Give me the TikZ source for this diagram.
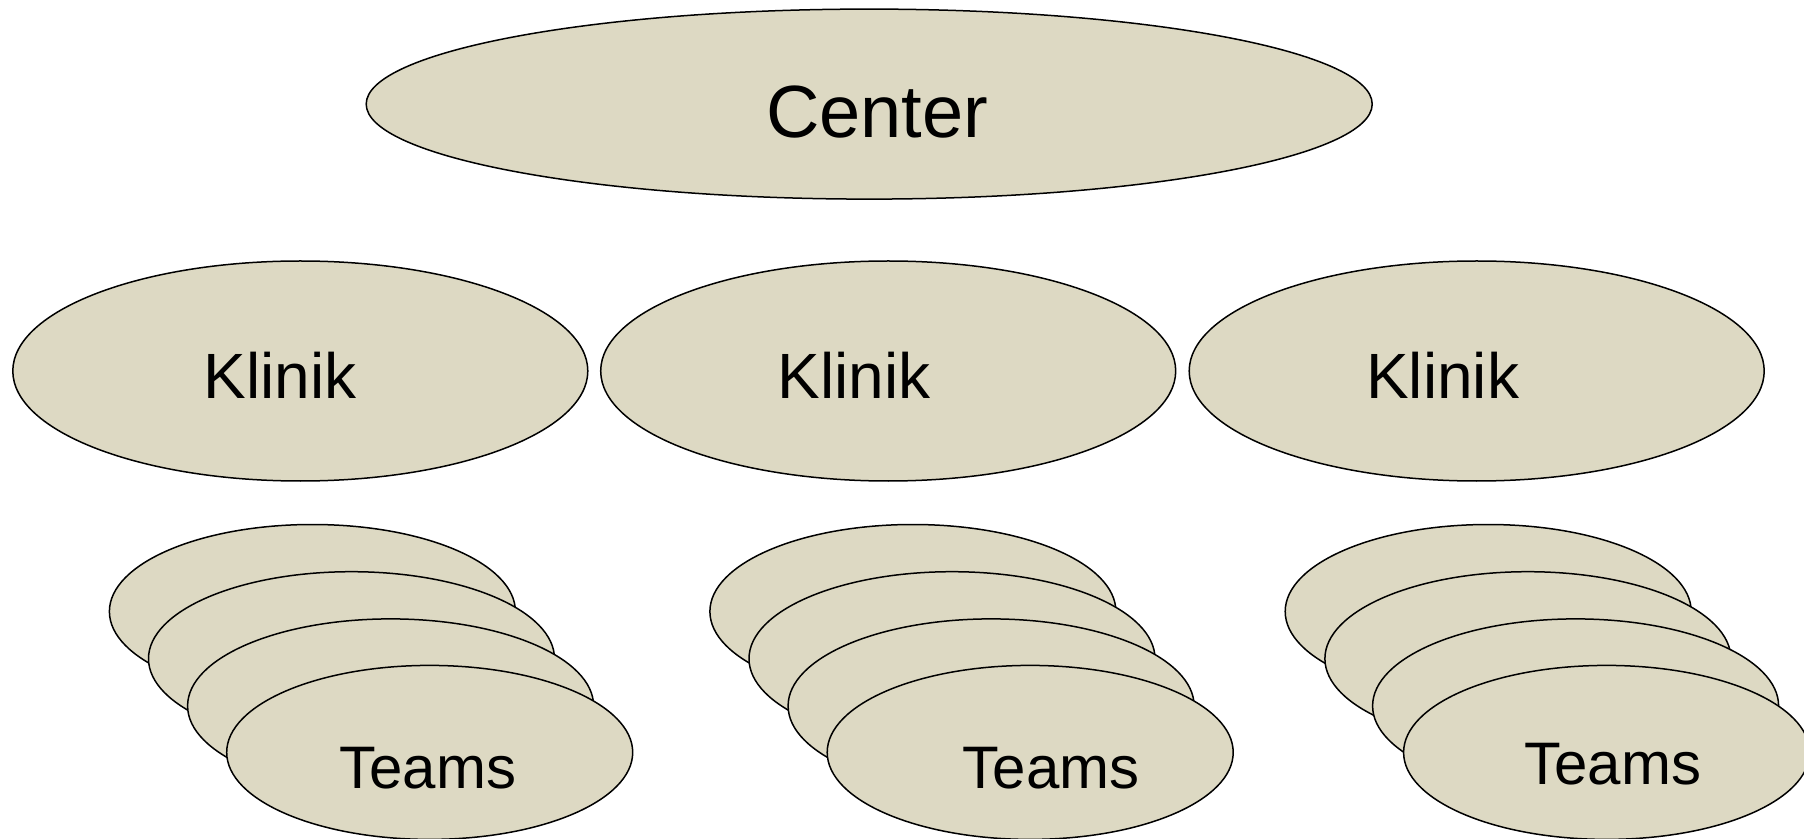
\documentclass[tikz,border=0pt]{standalone}
\usepackage{fontspec}
\setmainfont{Liberation Sans}
\usetikzlibrary{shapes.geometric}
\definecolor{ovfill}{HTML}{DDD9C3}
\tikzset{
  ov/.style={ellipse, draw=black, line width=0.75pt, fill=ovfill, inner sep=0pt},
  centerov/.style={ov, minimum width=503pt, minimum height=95pt},
  klinikov/.style={ov, minimum width=287.5pt, minimum height=110pt},
  teamov/.style={ov, minimum width=203pt, minimum height=87pt},
  lbl/.style={inner sep=0pt, text=black},
}
\begin{document}
\begin{tikzpicture}[x=0.5pt, y=-0.5pt]
\useasboundingbox (0,0) rectangle (1804,839);
\clip (0,0) rectangle (1804,839);
% Center
\node[centerov] (center) at (869.2,104.1) {};
\node[lbl, font=\fontsize{37}{40}\selectfont] (centert) at ([xshift=4pt,yshift=-4pt]center.center) {Center};
% Klinik
\node[klinikov] (k1) at (300.3,371) {};
\node[klinikov] (k2) at (888.2,371) {};
\node[klinikov] (k3) at (1476.7,371) {};
\node[lbl, font=\fontsize{32}{36}\selectfont] (k1t) at ([xshift=-10pt,yshift=-2pt]k1.center) {Klinik};
\node[lbl, font=\fontsize{32}{36}\selectfont] (k2t) at ([xshift=-17pt,yshift=-2pt]k2.center) {Klinik};
\node[lbl, font=\fontsize{32}{36}\selectfont] (k3t) at ([xshift=-17pt,yshift=-2pt]k3.center) {Klinik};
% Teams group 1
\node[teamov] (a1) at (312.4,611.5) {};
\node[teamov] (a2) at (351.5,658.7) {};
\node[teamov] (a3) at (390.6,705.9) {};
\node[teamov] (a4) at (429.7,752.4) {};
\node[lbl, font=\fontsize{30}{33}\selectfont] (a4t) at ([xshift=-1pt,yshift=-8pt]a4.center) {Teams};
% Teams group 2
\node[teamov] (b1) at (912.9,611.5) {};
\node[teamov] (b2) at (952.0,658.7) {};
\node[teamov] (b3) at (991.1,705.9) {};
\node[teamov] (b4) at (1030.2,752.4) {};
\node[lbl, font=\fontsize{30}{33}\selectfont] (b4t) at ([xshift=10.5pt,yshift=-8pt]b4.center) {Teams};
% Teams group 3
\node[teamov] (c1) at (1488.2,611.5) {};
\node[teamov] (c2) at (1527.9,658.7) {};
\node[teamov] (c3) at (1575.6,705.9) {};
\node[teamov] (c4) at (1606.6,752.4) {};
\node[lbl, font=\fontsize{30}{33}\selectfont] (c4t) at ([xshift=3pt,yshift=-6pt]c4.center) {Teams};
\end{tikzpicture}
\end{document}
